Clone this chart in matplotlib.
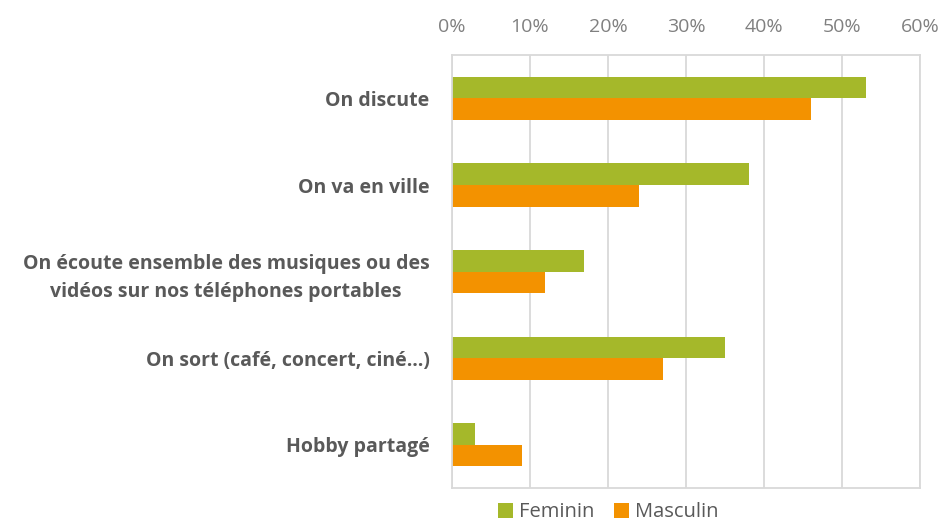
import numpy as np
from matplotlib import pyplot as plt

plt.rcParams["font.family"] = ["Open Sans", "DejaVu Sans"]

categories = ["On discute", "On va en ville",
              "On écoute ensemble des musiques ou des\nvidéos sur nos téléphones portables",
              "On sort (café, concert, ciné…)", "Hobby partagé"]
feminin = [53, 38, 17, 35, 3]
masculin = [46, 24, 12, 27, 9]
ticks = [0, 10, 20, 30, 40, 50, 60]

fig = plt.figure(figsize=(9.43, 5.30), dpi=100)
ax = fig.add_axes([0.479, 0.079, 0.497, 0.817])

y = np.arange(len(categories))
h = 0.25
ax.barh(y - h / 2, feminin, height=h, color="#a5b82a", label="Feminin")
ax.barh(y + h / 2, masculin, height=h, color="#f39200", label="Masculin")

ax.set_ylim(len(categories) - 0.5, -0.5)
ax.set_xlim(0, 60)
ax.set_xticks(ticks)
ax.set_xticklabels([f"{t}%" for t in ticks], color="#808080", fontsize=14)
ax.xaxis.tick_top()
ax.tick_params(axis="x", length=0, pad=14)
ax.grid(axis="x", color="#d9d9d9", linewidth=1.3)
ax.set_axisbelow(True)

ax.set_yticks(y)
ax.set_yticklabels(categories, fontsize=14, fontweight="bold", color="#595959",
                   ha="right", multialignment="center", linespacing=1.5)
ax.tick_params(axis="y", length=0, pad=16)

for s in ax.spines.values():
    s.set_color("#d9d9d9")
    s.set_linewidth(1.3)

fig.legend(loc="lower center", bbox_to_anchor=(0.645, -0.02), ncol=2, frameon=False,
           fontsize=14.5, handlelength=0.75, handleheight=0.75, handletextpad=0.3,
           columnspacing=1.0, labelcolor="#595959")

plt.savefig("out.png")
